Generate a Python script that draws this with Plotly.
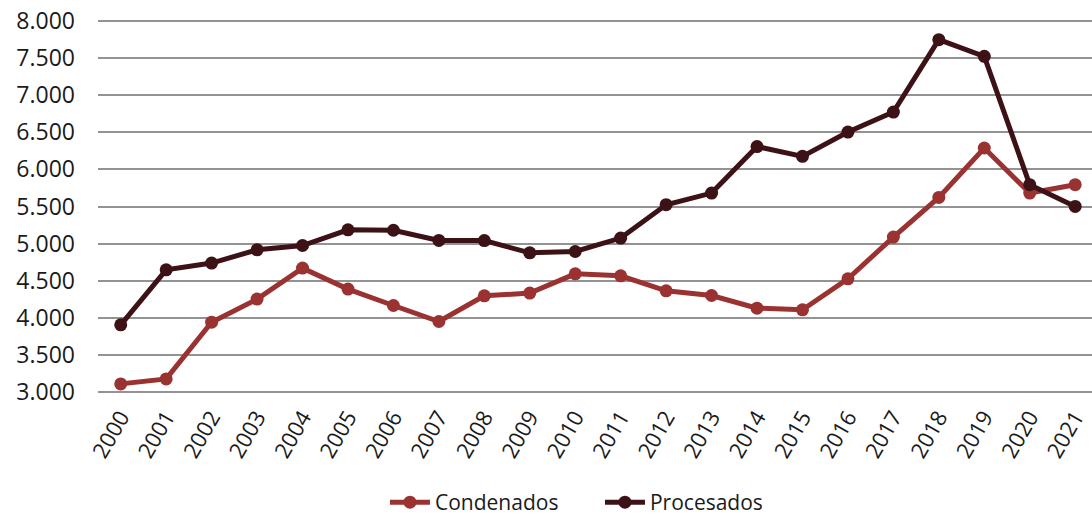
import plotly.graph_objects as go

years = [str(y) for y in range(2000, 2022)]
condenados = [3108, 3175, 3940, 4251, 4669, 4386, 4165, 3949, 4296, 4332, 4592,
              4565, 4363, 4300, 4129, 4107, 4525, 5088, 5622, 6289, 5681, 5794]
procesados = [3904, 4646, 4737, 4916, 4974, 5186, 5180, 5042, 5040, 4875, 4893,
              5074, 5524, 5681, 6308, 6176, 6504, 6774, 7750, 7525, 5794, 5501]
y_ticks = [3000, 3500, 4000, 4500, 5000, 5500, 6000, 6500, 7000, 7500, 8000]
y_tick_labels = ["3.000", "3.500", "4.000", "4.500", "5.000", "5.500",
                 "6.000", "6.500", "7.000", "7.500", "8.000"]

FONT = "Open Sans"

fig = go.Figure()
fig.add_trace(go.Scatter(
    x=years, y=condenados, name="Condenados", mode="lines+markers",
    line=dict(color="#9B3232", width=5), marker=dict(size=13, color="#9B3232"),
))
fig.add_trace(go.Scatter(
    x=years, y=procesados, name="Procesados", mode="lines+markers",
    line=dict(color="#3C1217", width=5), marker=dict(size=13, color="#3C1217"),
))

fig.update_layout(
    width=1092, height=523,
    margin=dict(l=98, r=0, t=20, b=130),
    plot_bgcolor="white", paper_bgcolor="white",
    font=dict(family=FONT, size=21, color="#1a1a1a"),
    showlegend=True,
    legend=dict(orientation="h", x=0.505, xanchor="center",
                yref="container", y=0, yanchor="bottom",
                font=dict(size=21), itemwidth=40, tracegroupgap=0,
                entrywidth=160, entrywidthmode="pixels"),
    xaxis=dict(type="category", range=[-0.5, 21.37], showgrid=False,
               tickangle=-60, tickfont=dict(size=22), showline=False,
               ticks="", ticklabelstandoff=6, automargin=False),
    yaxis=dict(range=[2985, 8015], tickvals=y_ticks, ticktext=y_tick_labels,
               showgrid=True, gridcolor="#939393", gridwidth=2, zeroline=False,
               tickfont=dict(size=23), ticklabelstandoff=22, showline=False,
               automargin=False),
)

# remove the browser's default 8px page margin so the figure fills the window
fig.write_html("out.html", config={"displayModeBar": False},
               post_script="document.body.style.margin='0';")
